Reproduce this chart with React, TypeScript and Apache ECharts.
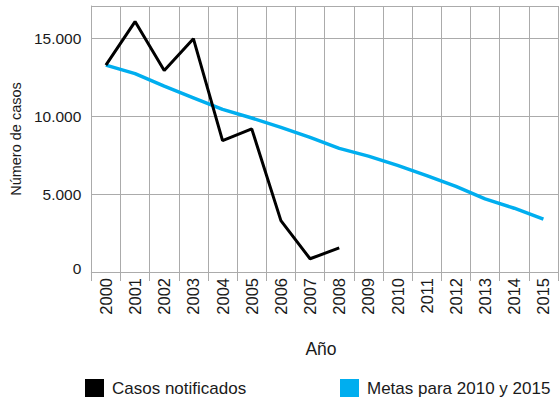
import React, { useEffect, useRef } from "react";
import * as echarts from "echarts";

const years = ["2000","2001","2002","2003","2004","2005","2006","2007","2008","2009","2010","2011","2012","2013","2014","2015"];
const casosNotificados = [13300, 16100, 12950, 15000, 8450, 9200, 3300, 850, 1550];
const metas = [13300, 12750, 11950, 11200, 10450, 9900, 9300, 8650, 7950, 7450, 6850, 6200, 5500, 4700, 4100, 3400];
const seriesNames = ["Casos notificados", "Metas para 2010 y 2015"];

const FONT = "Liberation Sans";
const GRID = "#ababab";
const TXT = "#1a1a1a";

export default function App() {
  const ref = useRef<HTMLDivElement>(null);
  useEffect(() => {
    if (!ref.current) return;
    const chart = echarts.init(ref.current, undefined, { renderer: "svg" });
    const legendBase = {
      top: 379,
      icon: "rect",
      itemWidth: 19,
      itemHeight: 18,
      padding: 0,
      textStyle: { fontSize: 17, color: TXT, fontFamily: FONT, padding: [0, 0, 0, 3] },
    };
    chart.setOption({
      animation: false,
      textStyle: { fontFamily: FONT },
      grid: { left: 86, right: 1, top: 6, bottom: 130, containLabel: false },
      legend: [
        { ...legendBase, left: 85, data: [seriesNames[0]] },
        { ...legendBase, left: 340, data: [seriesNames[1]] },
      ],
      graphic: [
        {
          type: "text",
          x: 321,
          y: 349,
          style: { text: "Año", fontSize: 17.5, fill: TXT, fontFamily: FONT, align: "center", verticalAlign: "middle" },
        },
      ],
      xAxis: {
        type: "category",
        data: years,
        boundaryGap: true,
        axisLine: { show: true, lineStyle: { color: GRID, width: 1 } },
        axisTick: { show: true, length: 9, interval: 0, lineStyle: { color: GRID } },
        axisLabel: { rotate: 90, interval: 0, fontSize: 16.5, color: TXT, margin: 6, fontFamily: FONT },
        splitLine: { show: true, interval: 0, lineStyle: { color: GRID, width: 1 } },
      },
      yAxis: {
        type: "value",
        min: 0,
        max: 17100,
        interval: 5000,
        name: "Número de casos",
        nameLocation: "middle",
        nameGap: 63,
        nameTextStyle: { fontSize: 14.5, color: TXT, fontFamily: FONT },
        axisLine: { show: true, lineStyle: { color: GRID } },
        axisTick: { show: false },
        axisLabel: {
          showMaxLabel: false,
          fontSize: 15.5,
          color: TXT,
          margin: 10,
          fontFamily: FONT,
          formatter: (v: number) => (v === 0 ? "{z|0}" : v / 1000 + ".000"),
          rich: { z: { fontSize: 15.5, color: TXT, fontFamily: FONT, padding: [0, 0, 8, 0] } },
        },
        splitLine: { show: true, lineStyle: { color: GRID, width: 1 } },
      },
      series: [
        {
          name: seriesNames[0],
          type: "line",
          data: casosNotificados,
          symbol: "none",
          color: "#000000",
          lineStyle: { color: "#000000", width: 3 },
          z: 3,
        },
        {
          name: seriesNames[1],
          type: "line",
          data: metas,
          symbol: "none",
          color: "#00aeef",
          lineStyle: { color: "#00aeef", width: 3.5 },
          z: 2,
        },
      ],
    });
    return () => chart.dispose();
  }, []);
  return <div ref={ref} style={{ position: "absolute", left: 0, top: 0, width: 559, height: 402 }} />;
}
